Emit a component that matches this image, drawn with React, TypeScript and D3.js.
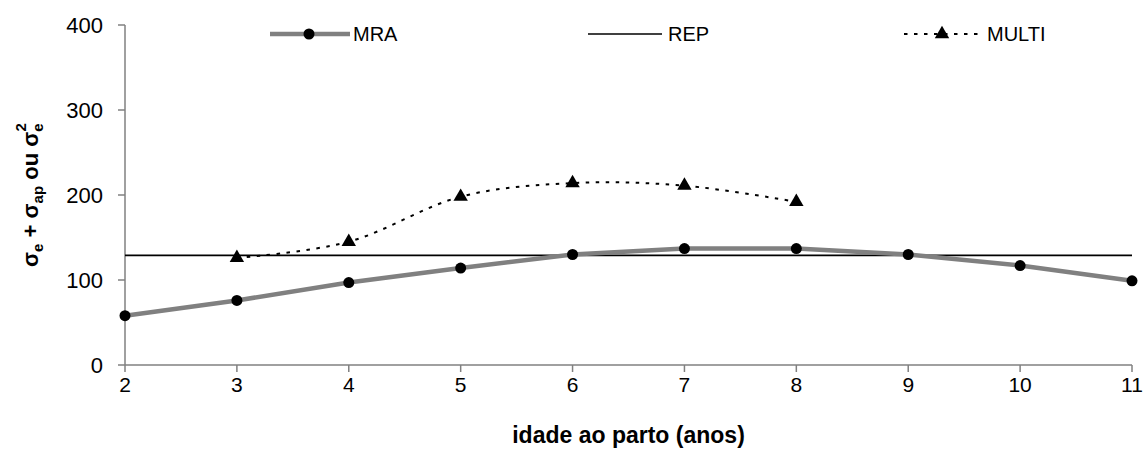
import React, { useEffect, useRef } from 'react';
import * as d3 from 'd3';

const ages = [2, 3, 4, 5, 6, 7, 8, 9, 10, 11];
const mraValues = [58, 76, 97, 114, 130, 137, 137, 130, 117, 99];
const repValue = 129;
const multiAges = [3, 4, 5, 6, 7, 8];
const multiValues = [126, 145, 198, 214, 211, 192];
const yTicks = [0, 100, 200, 300, 400];

const FONT = 'Arial, "Liberation Sans", sans-serif';
const AXIS_GREY = '#808080';

export default function App() {
  const svgRef = useRef<SVGSVGElement>(null);

  useEffect(() => {
    const svg = d3.select(svgRef.current);
    svg.selectAll('*').remove();

    const width = 1143;
    const height = 451;
    const margin = { top: 25, right: 11, bottom: 86, left: 125 };

    const x = d3.scaleLinear().domain([2, 11]).range([margin.left, width - margin.right]);
    const y = d3.scaleLinear().domain([0, 400]).range([height - margin.bottom, margin.top]);

    const g = svg.append('g');

    // y axis
    const yAxis = g.append('g');
    yAxis.append('line')
      .attr('x1', x(2)).attr('x2', x(2)).attr('y1', y(400)).attr('y2', y(0))
      .attr('stroke', AXIS_GREY).attr('stroke-width', 1.5);
    yTicks.forEach(t => {
      yAxis.append('line')
        .attr('x1', x(2) - 7).attr('x2', x(2)).attr('y1', y(t)).attr('y2', y(t))
        .attr('stroke', AXIS_GREY).attr('stroke-width', 1.5);
      yAxis.append('text')
        .attr('x', x(2) - 22).attr('y', y(t) + 8)
        .attr('text-anchor', 'end')
        .style('font-family', FONT).style('font-size', '22px')
        .text(t);
    });

    // x axis
    const xAxis = g.append('g');
    xAxis.append('line')
      .attr('x1', x(2)).attr('x2', x(11)).attr('y1', y(0)).attr('y2', y(0))
      .attr('stroke', AXIS_GREY).attr('stroke-width', 1.5);
    ages.forEach(a => {
      xAxis.append('line')
        .attr('x1', x(a)).attr('x2', x(a)).attr('y1', y(0)).attr('y2', y(0) + 7)
        .attr('stroke', AXIS_GREY).attr('stroke-width', 1.5);
      xAxis.append('text')
        .attr('x', x(a)).attr('y', y(0) + 27)
        .attr('text-anchor', 'middle')
        .style('font-family', FONT).style('font-size', '21px')
        .text(a);
    });

    // REP
    g.append('line')
      .attr('x1', x(2)).attr('x2', x(11))
      .attr('y1', y(repValue)).attr('y2', y(repValue))
      .attr('stroke', '#000').attr('stroke-width', 1.6);

    // MRA
    const mraLine = d3.line<number>()
      .x((_, i) => x(ages[i]))
      .y(d => y(d));
    g.append('path')
      .attr('d', mraLine(mraValues))
      .attr('fill', 'none')
      .attr('stroke', AXIS_GREY)
      .attr('stroke-width', 4.5);
    g.selectAll('.mra-dot')
      .data(mraValues)
      .join('circle')
      .attr('cx', (_, i) => x(ages[i]))
      .attr('cy', d => y(d))
      .attr('r', 5.5)
      .attr('fill', '#000');

    // MULTI
    const multiLine = d3.line<number>()
      .x((_, i) => x(multiAges[i]))
      .y(d => y(d))
      .curve(d3.curveCatmullRom.alpha(0));
    g.append('path')
      .attr('d', multiLine(multiValues))
      .attr('fill', 'none')
      .attr('stroke', '#000')
      .attr('stroke-width', 2)
      .attr('stroke-dasharray', '3.5,6.5');
    const tri = d3.symbol().type(d3.symbolTriangle).size(90);
    g.selectAll('.multi-tri')
      .data(multiValues)
      .join('path')
      .attr('d', tri)
      .attr('transform', (d, i) => `translate(${x(multiAges[i])},${y(d)})`)
      .attr('fill', '#000');

    // legend
    const ly = 34;
    const legend = g.append('g');
    legend.append('line').attr('x1', 270).attr('x2', 350).attr('y1', ly).attr('y2', ly)
      .attr('stroke', AXIS_GREY).attr('stroke-width', 4.5);
    legend.append('circle').attr('cx', 309).attr('cy', ly).attr('r', 5.5).attr('fill', '#000');
    legend.append('line').attr('x1', 588).attr('x2', 662).attr('y1', ly).attr('y2', ly)
      .attr('stroke', '#000').attr('stroke-width', 1.6);
    legend.append('line').attr('x1', 904).attr('x2', 983).attr('y1', ly).attr('y2', ly)
      .attr('stroke', '#000').attr('stroke-width', 2).attr('stroke-dasharray', '3.5,6.5');
    legend.append('path').attr('d', tri).attr('transform', `translate(942,${ly})`).attr('fill', '#000');
    [['MRA', 353], ['REP', 668], ['MULTI', 987]].forEach(([t, lx]) => {
      legend.append('text')
        .attr('x', lx as number).attr('y', ly + 7)
        .style('font-family', FONT).style('font-size', '20px')
        .text(t as string);
    });

    // axis titles
    g.append('text')
      .attr('x', (x(2) + x(11)) / 2)
      .attr('y', 443)
      .attr('text-anchor', 'middle')
      .style('font-family', FONT).style('font-size', '23px').style('font-weight', 'bold')
      .text('idade ao parto (anos)');

    const yt = g.append('text')
      .attr('transform', `translate(38,195) rotate(-90)`)
      .attr('text-anchor', 'middle')
      .style('font-family', FONT).style('font-size', '22px').style('font-weight', 'bold');
    yt.append('tspan').text('σ');
    yt.append('tspan').style('font-size', '15px').attr('dy', 5).text('e');
    yt.append('tspan').attr('dy', -5).text(' + σ');
    yt.append('tspan').style('font-size', '15px').attr('dy', 5).text('ap');
    yt.append('tspan').attr('dy', -5).text(' ou σ');
    yt.append('tspan').style('font-size', '15px').attr('dy', 5).text('e');
    yt.append('tspan').style('font-size', '15px').attr('dx', -8).attr('dy', -17).text('2');
  }, []);

  return (
    <svg
      ref={svgRef}
      width={1143}
      height={451}
      style={{ position: 'absolute', left: 0, top: 0, background: '#fff' }}
    ></svg>
  );
}
